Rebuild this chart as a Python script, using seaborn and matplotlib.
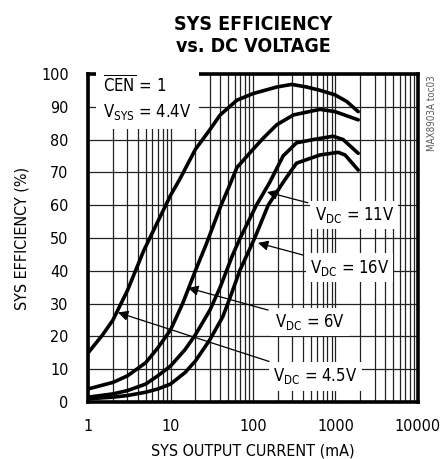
import numpy as np
import pandas as pd
import matplotlib
matplotlib.use("Agg")
import matplotlib.pyplot as plt
import seaborn as sns

# ================================
# DATA
# ================================

x_45 = [1, 1.5, 2, 3, 4.7, 7, 10, 13, 20, 30, 40, 64, 100, 194, 295, 448, 650, 990, 1370, 1890]
y_45 = [15, 20.5, 25, 34, 46, 55, 63, 68, 77, 83, 87.5, 92, 94, 96, 96.8, 96, 95, 93.6, 91.6, 88.5]

x_6 = [1, 2, 3, 5, 7, 10, 14, 20, 27, 41, 50, 64, 100, 133, 194, 310, 650, 990, 1890]
y_6 = [4, 6, 8, 12, 16.5, 22, 30, 40, 48, 60, 65, 71.5, 77, 80.4, 84.5, 87.5, 89.2, 88.5, 86]

x_11 = [1, 2, 3, 5, 7, 10, 15, 20, 30, 40, 57, 70, 110, 160, 232, 337, 540, 935, 1240, 1890]
y_11 = [1.5, 2.5, 3.5, 5.5, 8, 11, 16, 20.5, 28, 35, 45, 50, 60, 67, 75, 79, 80, 81, 80, 75.8]

x_16 = [1, 2, 3, 5, 7, 10, 15, 20, 30, 43, 53, 69, 105, 153, 243, 337, 650, 1080, 1310, 1890]
y_16 = [1, 1.5, 2, 3, 4, 5.5, 9, 12.5, 19, 26, 32, 40, 50, 60, 67.7, 72.8, 75.3, 76.1, 75.3, 70.7]

y_ticks = [0, 10, 20, 30, 40, 50, 60, 70, 80, 90, 100]
x_ticks = [1, 10, 100, 1000, 10000]
x_tick_labels = ["1", "10", "100", "1000", "10000"]

df = pd.concat([
    pd.DataFrame({"current": x_45, "eff": y_45, "vdc": "4.5V"}),
    pd.DataFrame({"current": x_6, "eff": y_6, "vdc": "6V"}),
    pd.DataFrame({"current": x_11, "eff": y_11, "vdc": "11V"}),
    pd.DataFrame({"current": x_16, "eff": y_16, "vdc": "16V"}),
])

# ================================
# STYLE
# ================================

sns.set_style("white", {"text.color": "black", "axes.labelcolor": "black",
                        "xtick.color": "black", "ytick.color": "black"})
narrow = ["Liberation Sans Narrow", "DejaVu Sans"]
plt.rcParams["font.family"] = narrow
plt.rcParams["font.stretch"] = "condensed"
plt.rcParams["mathtext.fontset"] = "custom"
plt.rcParams["mathtext.rm"] = "DejaVu Sans:stretch=condensed"
plt.rcParams["mathtext.it"] = "DejaVu Sans:stretch=condensed"

fig = plt.figure(figsize=(4.45, 4.59), dpi=100)
ax = fig.add_axes([0.198, 0.124, 0.741, 0.715])

ax.set_xscale("log")
ax.set_xlim(1, 10000)
ax.set_ylim(0, 100)

# grid
ax.set_xticks(x_ticks)
ax.set_xticks([m * d for d in [1, 10, 100, 1000] for m in range(2, 10)], minor=True)
ax.set_yticks(y_ticks)
ax.grid(which="both", axis="x", color="#222222", lw=0.9)
ax.grid(which="major", axis="y", color="#222222", lw=0.9)
ax.set_axisbelow(True)

sns.lineplot(data=df, x="current", y="eff", units="vdc", estimator=None,
             color="black", lw=2.6, sort=False, ax=ax, zorder=3)

ax.set_xticklabels(x_tick_labels)
ax.tick_params(axis="x", which="both", length=0, labelsize=11.5, pad=12)
ax.tick_params(axis="y", which="both", length=0, labelsize=11.5, pad=14)
ax.set_xlabel("SYS OUTPUT CURRENT (mA)", fontsize=11.5, labelpad=7)
ax.set_ylabel("SYS EFFICIENCY (%)", fontsize=11.5, labelpad=8)

for s in ax.spines.values():
    s.set_linewidth(2.6)
    s.set_color("black")

fig.text(0.569, 1 - 30 / 459, "SYS EFFICIENCY", fontsize=14, fontweight="bold",
         ha="center", va="baseline")
fig.text(0.569, 1 - 52 / 459, "vs. DC VOLTAGE", fontsize=14, fontweight="bold",
         ha="center", va="baseline")

box = dict(facecolor="white", edgecolor="none", pad=3)

ax.text(1.52, 92.5, r"$\overline{\mathrm{CEN}}$ = 1" + "\n" + r"V$_{\mathrm{SYS}}$ = 4.4V",
        fontsize=12, va="center", ha="left", linespacing=1.45, zorder=4,
        bbox=dict(facecolor="white", edgecolor="none", pad=5))

labels = [
    (r"V$_{\mathrm{DC}}$ = 11V", (560, 57), (148, 64)),
    (r"V$_{\mathrm{DC}}$ = 16V", (490, 41), (115, 48.5)),
    (r"V$_{\mathrm{DC}}$ = 6V", (185, 24.5), (16.3, 34.8)),
    (r"V$_{\mathrm{DC}}$ = 4.5V", (177, 7.8), (2.3, 27.3)),
]
for txt, pos, tip in labels:
    ax.annotate(txt, xy=tip, xytext=pos, fontsize=12, va="center", ha="left",
                zorder=4, bbox=box,
                arrowprops=dict(arrowstyle="-|>", color="black", lw=0.9,
                                mutation_scale=15, shrinkA=2, shrinkB=0))

fig.text(0.97, 1 - 75 / 459, "MAX8903A toc03", rotation=90, fontsize=7,
         color="#555555", ha="center", va="top")

plt.savefig("out.png", dpi=100)
